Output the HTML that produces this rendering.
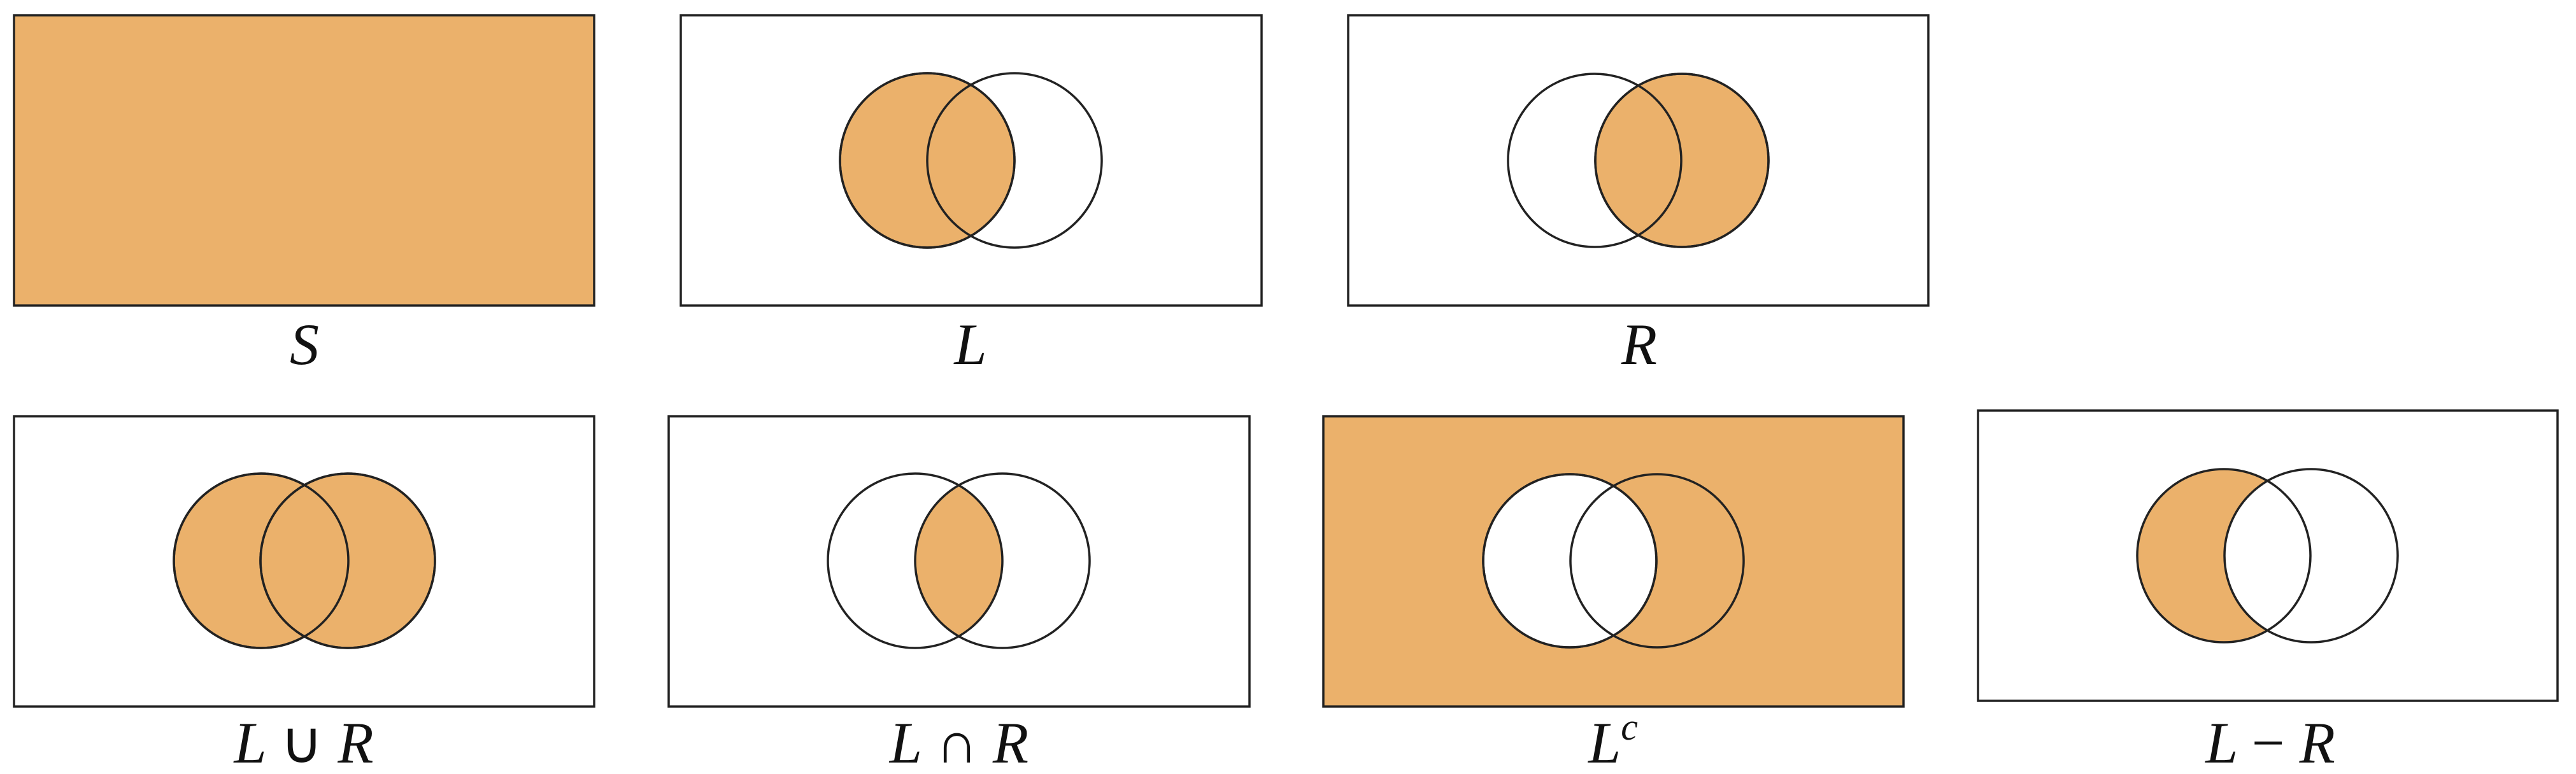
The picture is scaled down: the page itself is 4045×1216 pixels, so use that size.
<!DOCTYPE html>
<html><head><meta charset="utf-8"><style>
html,body{margin:0;padding:0;background:#fff;}
svg{display:block;}
text{font-family:"Liberation Serif",serif;font-style:italic;font-size:92px;fill:#111;}
.u{font-style:normal;}
</style></head><body>
<svg width="4045" height="1216" viewBox="0 0 4045 1216" xmlns="http://www.w3.org/2000/svg">
<defs>
<clipPath id="cL1"><circle cx="1456" cy="252" r="137"/></clipPath>
<clipPath id="cR2"><circle cx="2641" cy="252" r="136"/></clipPath>
<clipPath id="cI"><circle cx="1437" cy="881" r="137"/></clipPath>
<clipPath id="cLc"><circle cx="2465" cy="881" r="136"/></clipPath>
<mask id="mLc"><rect x="0" y="0" width="4045" height="1216" fill="#fff"/><circle cx="2465" cy="881" r="136" fill="#000"/></mask>
<mask id="mLR"><rect x="0" y="0" width="4045" height="1216" fill="#fff"/><circle cx="3629" cy="873" r="136" fill="#000"/></mask>
</defs>
<g stroke="#222" stroke-width="3.5">
<!-- S -->
<g>
<rect x="22" y="24" width="911" height="456" fill="#EBB16B"/>
</g>
<!-- L -->
<g>
<rect x="1069" y="24" width="912" height="456" fill="#fff"/>
<circle cx="1456" cy="252" r="137" fill="#EBB16B"/>
<circle cx="1456" cy="252" r="137" fill="none"/>
<circle cx="1593" cy="252" r="137" fill="none"/>
</g>
<!-- R -->
<g>
<rect x="2117" y="24" width="911" height="456" fill="#fff"/>
<circle cx="2641" cy="252" r="136" fill="#EBB16B"/>
<circle cx="2504" cy="252" r="136" fill="none"/>
<circle cx="2641" cy="252" r="136" fill="none"/>
</g>
<!-- L union R -->
<g>
<rect x="22" y="654" width="911" height="456" fill="#fff"/>
<circle cx="410" cy="881" r="137" fill="#EBB16B"/>
<circle cx="546" cy="881" r="137" fill="#EBB16B"/>
<circle cx="410" cy="881" r="137" fill="none"/>
<circle cx="546" cy="881" r="137" fill="none"/>
</g>
<!-- L intersect R -->
<g>
<rect x="1050" y="654" width="912" height="456" fill="#fff"/>
<circle cx="1574" cy="881" r="137" fill="#EBB16B" stroke="none" clip-path="url(#cI)"/>
<circle cx="1437" cy="881" r="137" fill="none"/>
<circle cx="1574" cy="881" r="137" fill="none"/>
</g>
<!-- L complement -->
<g>
<rect x="2078" y="654" width="911" height="456" fill="#EBB16B"/>
<circle cx="2465" cy="881" r="136" fill="#fff"/>
<circle cx="2465" cy="881" r="136" fill="none"/>
<circle cx="2602" cy="881" r="136" fill="none"/>
</g>
<!-- L minus R -->
<g>
<rect x="3106" y="645" width="910" height="456" fill="#fff"/>
<circle cx="3492" cy="873" r="136" fill="#EBB16B" stroke="none" mask="url(#mLR)"/>
<circle cx="3492" cy="873" r="136" fill="none"/>
<circle cx="3629" cy="873" r="136" fill="none"/>
</g>
</g>
<text x="478" y="572" text-anchor="middle">S</text>
<text x="1524" y="572" text-anchor="middle">L</text>
<text x="2574" y="572" text-anchor="middle">R</text>
<text x="477" y="1198" text-anchor="middle">L <tspan class="u">∪</tspan> R</text>
<text x="1506" y="1198" text-anchor="middle">L <tspan class="u">∩</tspan> R</text>
<text x="2533" y="1198" text-anchor="middle">L<tspan dy="-36" font-size="60">c</tspan></text>
<text x="3565" y="1198" text-anchor="middle">L <tspan class="u">−</tspan> R</text>
</svg>
</body></html>
